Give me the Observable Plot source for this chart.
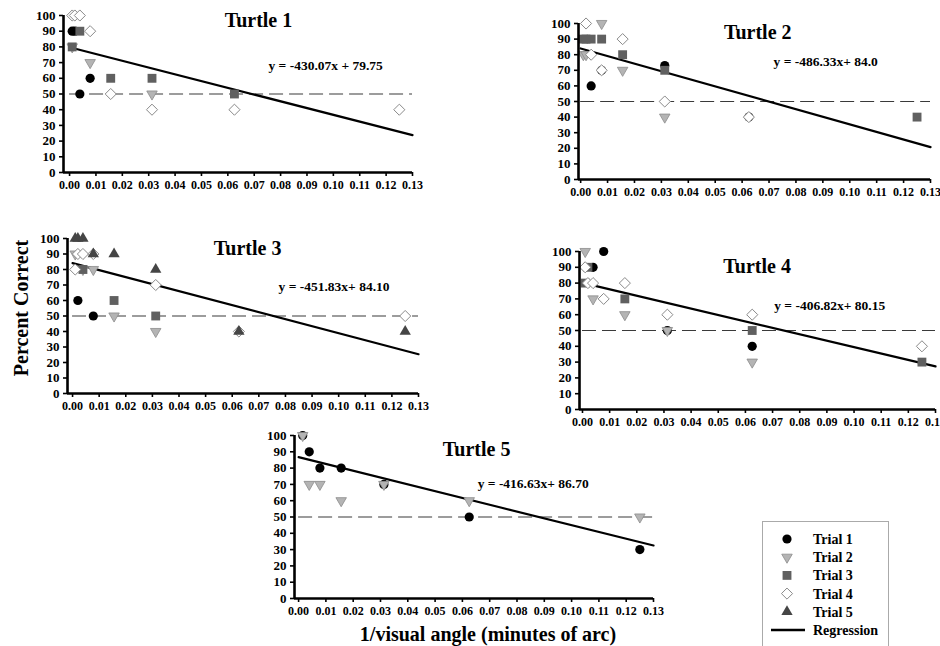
<!DOCTYPE html>
<html>
<head>
<meta charset="utf-8">
<script src="https://cdn.jsdelivr.net/npm/d3@7"></script>
<script src="https://cdn.jsdelivr.net/npm/@observablehq/plot@0.6"></script>
<style>
html,body{margin:0;padding:0;background:#fff;}
#chart{position:relative;width:940px;height:646px;overflow:hidden;font-family:"Liberation Serif","Times New Roman",serif;font-weight:bold;color:#000;}
#chart svg{max-width:none;}
g[aria-label="x-axis tick label"]{font-size:12px;}
g[aria-label="y-axis tick label"]{font-size:13px;}
.lab{position:absolute;font-size:20px;font-weight:bold;white-space:nowrap;}
</style>
</head>
<body>
<div id="chart"></div>
<script>
// ---- data ----
const titles = ["Turtle 1", "Turtle 2", "Turtle 3", "Turtle 4", "Turtle 5"];
const equations = ["y = -430.07x + 79.75", "y = -486.33x+ 84.0", "y = -451.83x+ 84.10", "y = -406.82x+ 80.15", "y = -416.63x+ 86.70"];
const slopes = [-430.07, -486.33, -451.83, -406.82, -416.63];
const intercepts = [79.75, 84.0, 84.10, 80.15, 86.70];
const chanceLevel = 50;
const xTicks = [0, 0.01, 0.02, 0.03, 0.04, 0.05, 0.06, 0.07, 0.08, 0.09, 0.10, 0.11, 0.12, 0.13];
const yTicks = [0, 10, 20, 30, 40, 50, 60, 70, 80, 90, 100];
const trialNames = ["Trial 1", "Trial 2", "Trial 3", "Trial 4", "Trial 5"];

// [trial, 1/visual angle, percent correct]
const turtle1 = [
  [1,0.001,90],[1,0.002,90],[1,0.0039,50],[1,0.0078,60],
  [2,0.001,80],[2,0.0078,70],[2,0.03125,50],
  [3,0.001,80],[3,0.0039,90],[3,0.0156,60],[3,0.03125,60],[3,0.0625,50],
  [4,0.001,100],[4,0.002,100],[4,0.0039,100],[4,0.0078,90],[4,0.0156,50],[4,0.03125,40],[4,0.0625,40],[4,0.125,40]
];
const turtle2 = [
  [1,0.0039,60],[1,0.0078,70],[1,0.03125,73],[1,0.0625,40],
  [2,0.0078,100],[2,0.001,80],[2,0.002,80],[2,0.0156,70],[2,0.03125,40],
  [3,0.001,90],[3,0.002,90],[3,0.0039,90],[3,0.0078,90],[3,0.0156,80],[3,0.03125,70],[3,0.125,40],
  [4,0.002,100],[4,0.0039,80],[4,0.0078,70],[4,0.0156,90],[4,0.03125,50],[4,0.0625,40]
];
const turtle3 = [
  [1,0.002,60],[1,0.0078,50],
  [2,0.001,90],[2,0.0039,80],[2,0.0078,80],[2,0.0156,50],[2,0.03125,40],
  [3,0.0039,80],[3,0.0156,60],[3,0.03125,50],
  [4,0.001,80],[4,0.002,90],[4,0.0039,90],[4,0.0078,90],[4,0.03125,70],[4,0.0625,40],[4,0.125,50],
  [5,0.001,100],[5,0.002,100],[5,0.0039,100],[5,0.0078,90],[5,0.0156,90],[5,0.03125,80],[5,0.0625,40],[5,0.125,40]
];
const turtle4 = [
  [1,0.0078,100],[1,0.0039,90],[1,0.03125,50],[1,0.0625,40],
  [2,0.001,100],[2,0.0039,70],[2,0.0156,60],[2,0.03125,50],[2,0.0625,30],
  [3,0.001,80],[3,0.002,90],[3,0.0156,70],[3,0.0625,50],[3,0.125,30],
  [4,0.001,90],[4,0.002,80],[4,0.0039,80],[4,0.0078,70],[4,0.0156,80],[4,0.03125,60],[4,0.0625,60],[4,0.125,40]
];
const turtle5 = [
  [1,0.0015,100],[1,0.0039,90],[1,0.0078,80],[1,0.0156,80],[1,0.03125,70],[1,0.0625,50],[1,0.125,30],
  [2,0.0015,100],[2,0.0039,70],[2,0.0078,70],[2,0.0156,60],[2,0.03125,70],[2,0.0625,60],[2,0.125,50]
];
const turtles = [turtle1, turtle2, turtle3, turtle4, turtle5];

// ---- layout (pixel frame of each panel, annotation anchors in data units) ----
const layout = [
  {left:63,  top:15,  w:349, h:157, xmin:-0.0023, tx:0.0716, ty:97,   ex:0.0754, ey:68},
  {left:578, top:23,  w:352, h:156, xmin:-0.0008, tx:0.0658, ty:94,   ex:0.0717, ey:75.5},
  {left:67,  top:238, w:351, h:155, xmin:-0.0019, tx:0.0658, ty:93.5, ex:0.0774, ey:69},
  {left:579, top:251, w:356, h:158, xmin:-0.0011, tx:0.0643, ty:90.5, ex:0.0706, ey:65.8},
  {left:294, top:435, w:359, h:163, xmin:-0.0015, tx:0.0652, ty:91.4, ex:0.0656, ey:70.5}
];

const triDown = {
  draw(ctx, size) {
    const y = Math.sqrt(size / (3 * Math.sqrt(3)));
    const s3 = Math.sqrt(3);
    ctx.moveTo(0, 2 * y);
    ctx.lineTo(-s3 * y, -y);
    ctx.lineTo(s3 * y, -y);
    ctx.closePath();
  }
};
const trialStyle = {
  1: {symbol: "circle", fill: "#000", stroke: "none", r: 4.6},
  2: {symbol: triDown, fill: "#b4b4b4", stroke: "#8c8c8c", strokeWidth: 0.8, r: 3.9},
  3: {symbol: "square", fill: "#606060", stroke: "none", r: 5},
  4: {symbol: "diamond2", fill: "#fff", stroke: "#8a8a8a", strokeWidth: 1, r: 5},
  5: {symbol: "triangle", fill: "#454545", stroke: "none", r: 4.2}
};

const chart = document.getElementById("chart");
const M = {l: 36, r: 10, t: 10, b: 26};

turtles.forEach((tbl, i) => {
  const lay = layout[i];
  const pts = tbl.map(([trial, x, y]) => ({trial, x, y}));
  const reg = [0, 0.13].map(x => ({x, y: slopes[i] * x + intercepts[i]}));
  const marks = [
    Plot.ruleY([chanceLevel], {x1: 0, x2: 0.13, stroke: "#3a3a3a", strokeWidth: 1.2, strokeDasharray: "14,6"}),
    Plot.line(reg, {x: "x", y: "y", stroke: "#000", strokeWidth: 2.2})
  ];
  for (let t = 1; t <= 5; t++) {
    const sub = pts.filter(d => d.trial === t);
    if (sub.length) marks.push(Plot.dot(sub, {x: "x", y: "y", ...trialStyle[t]}));
  }
  marks.push(
    Plot.axisY({ticks: yTicks, tickSize: 4, tickPadding: 4, strokeWidth: 1.6, label: null}),
    Plot.axisX({ticks: xTicks, tickFormat: d3.format(".2f"), tickSize: 4, tickPadding: 4, strokeWidth: 1.6, label: null}),
    Plot.ruleX([lay.xmin], {y1: 0, y2: 100, stroke: "#000", strokeWidth: 2.6}),
    Plot.ruleY([0], {x1: lay.xmin, x2: 0.13, stroke: "#000", strokeWidth: 2.6}),
    Plot.text([{x: lay.tx, y: lay.ty, label: titles[i]}], {x: "x", y: "y", text: "label", fontSize: 20, fontWeight: "bold", fill: "#000"}),
    Plot.text([{x: lay.ex, y: lay.ey, label: equations[i]}], {x: "x", y: "y", text: "label", fontSize: 13.5, fontWeight: "bold", textAnchor: "start", fill: "#000"})
  );
  const svg = Plot.plot({
    width: lay.w + M.l + M.r,
    height: lay.h + M.t + M.b,
    marginLeft: M.l, marginRight: M.r, marginTop: M.t, marginBottom: M.b,
    x: {domain: [lay.xmin, 0.13], label: null},
    y: {domain: [0, 100], label: null},
    style: {fontFamily: '"Liberation Serif", "Times New Roman", serif', fontWeight: "bold", fontSize: "12px", color: "#000", background: "transparent", overflow: "visible"},
    marks
  });
  svg.style.position = "absolute";
  svg.style.left = (lay.left - M.l) + "px";
  svg.style.top = (lay.top - M.t) + "px";
  chart.appendChild(svg);
});

// axis titles
const yl = document.createElement("div");
yl.className = "lab";
yl.textContent = "Percent Correct";
yl.style.left = "21px"; yl.style.top = "308px";
yl.style.transform = "translate(-50%,-50%) rotate(-90deg)";
chart.appendChild(yl);
const xl = document.createElement("div");
xl.className = "lab";
xl.textContent = "1/visual angle (minutes of arc)";
xl.style.left = "488px"; xl.style.top = "634px";
xl.style.transform = "translate(-50%,-50%)";
chart.appendChild(xl);

// legend
const leg = d3.select(chart).append("div")
  .style("position", "absolute").style("left", "762px").style("top", "521px")
  .style("width", "127px").style("height", "140px")
  .style("border", "1px solid #aaa").style("background", "#fff").style("box-sizing", "border-box");
const lsvg = leg.append("svg").attr("width", 127).attr("height", 125).style("display", "block");
const symMap = {1: d3.symbolCircle, 2: triDown, 3: d3.symbolSquare, 4: d3.symbolDiamond2, 5: d3.symbolTriangle};
trialNames.forEach((name, k) => {
  const t = k + 1, st = trialStyle[t];
  const cy = 17 + 18.2 * k;
  lsvg.append("path")
    .attr("d", d3.symbol(symMap[t], Math.PI * st.r * st.r)())
    .attr("transform", `translate(24,${cy})`)
    .attr("fill", st.fill).attr("stroke", st.stroke).attr("stroke-width", st.strokeWidth || 0);
  lsvg.append("text").attr("x", 50).attr("y", cy).attr("dy", "0.35em")
    .style("font", "bold 14px 'Liberation Serif', serif").text(name);
});
const ry = 17 + 18.2 * 5;
lsvg.append("line").attr("x1", 8).attr("x2", 42).attr("y1", ry).attr("y2", ry).attr("stroke", "#000").attr("stroke-width", 2.4);
lsvg.append("text").attr("x", 50).attr("y", ry).attr("dy", "0.35em")
  .style("font", "bold 14px 'Liberation Serif', serif").text("Regression");
</script>
</body>
</html>
